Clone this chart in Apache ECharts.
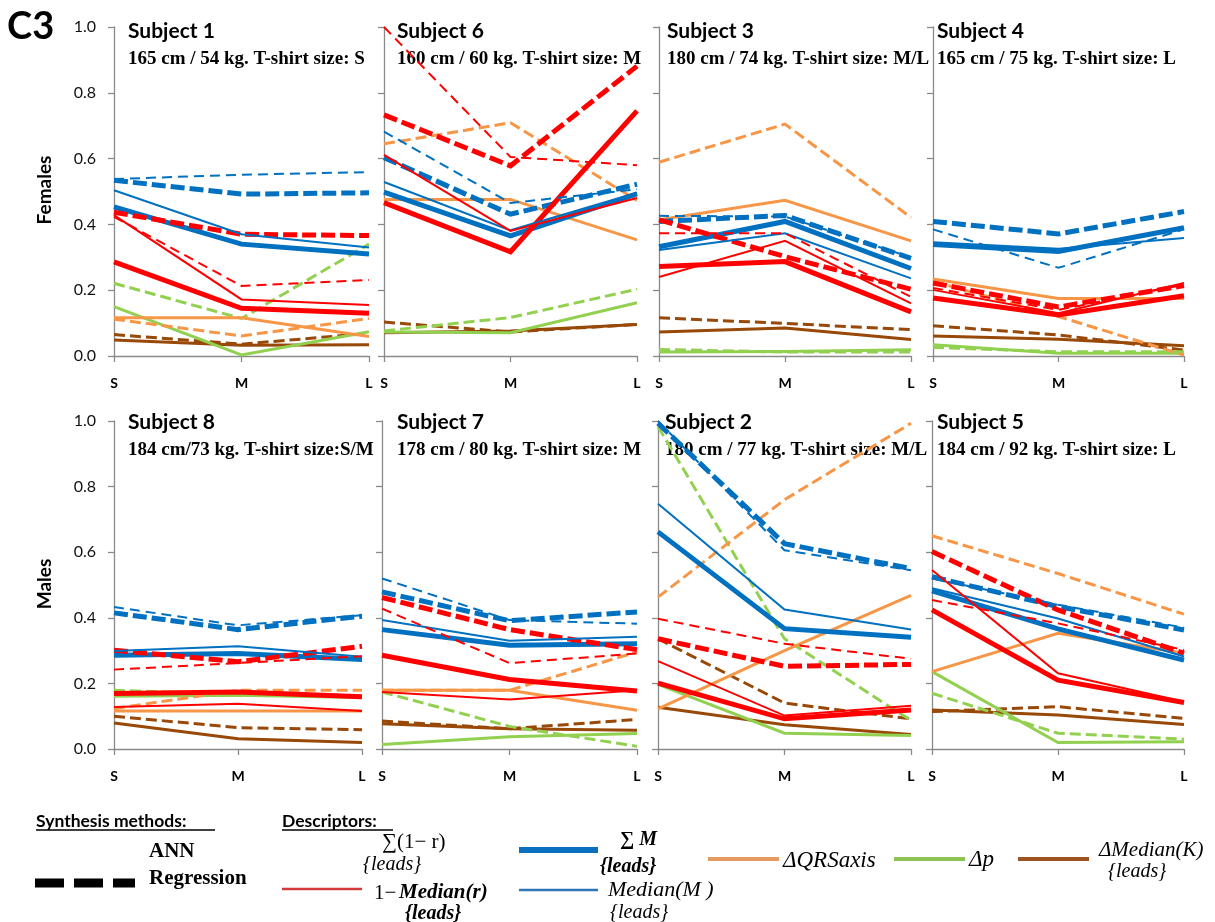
<!DOCTYPE html>
<html>
<head>
<meta charset="utf-8">
<script src="https://cdn.jsdelivr.net/npm/echarts@6/dist/echarts.min.js"></script>
<style>
  html, body { margin: 0; padding: 0; background: #fff; }
  #chart { width: 1215px; height: 922px; }
</style>
</head>
<body>
<div id="chart"></div>
<script>
// Panel order: top row (females) then bottom row (males)
const subjects = ['Subject 1', 'Subject 6', 'Subject 3', 'Subject 4',
                  'Subject 8', 'Subject 7', 'Subject 2', 'Subject 5'];
const subtitles = [
  '165 cm / 54 kg. T-shirt size: S',
  '160 cm / 60 kg. T-shirt size: M',
  '180 cm / 74 kg. T-shirt size: M/L',
  '165 cm / 75 kg. T-shirt size: L',
  '184 cm/73 kg. T-shirt size:S/M',
  '178 cm / 80 kg. T-shirt size: M',
  '180 cm / 77 kg. T-shirt size: M/L',
  '184 cm / 92 kg. T-shirt size: L'
];
const sizes = ['S', 'M', 'L'];
const yTicks = [0, 0.2, 0.4, 0.6, 0.8, 1.0];

// Descriptor values per panel, each triple is [S, M, L]
// Σ(1−r){leads}
const sum1rANN = [[0.286,0.145,0.130],[0.466,0.317,0.745],[0.272,0.287,0.134],[0.176,0.125,0.183],
                  [0.169,0.174,0.159],[0.286,0.212,0.177],[0.201,0.092,0.119],[0.424,0.210,0.142]];
const sum1rReg = [[0.437,0.370,0.366],[0.733,0.578,0.881],[0.414,0.302,0.203],[0.222,0.149,0.214],
                  [0.301,0.266,0.313],[0.462,0.364,0.303],[0.336,0.252,0.258],[0.602,0.424,0.292]];
// 1−Median(r){leads}
const med1rANN = [[0.428,0.172,0.155],[0.611,0.380,0.480],[0.240,0.350,0.160],[0.201,0.130,0.222],
                  [0.128,0.138,0.116],[0.174,0.151,0.179],[0.268,0.102,0.132],[0.546,0.231,0.144]];
const med1rReg = [[0.423,0.213,0.231],[1.000,0.605,0.580],[0.373,0.373,0.180],[0.207,0.140,0.217],
                  [0.242,0.262,0.283],[0.428,0.262,0.291],[0.397,0.321,0.275],[0.454,0.383,0.302]];
// ΣM{leads}
const sumMANN = [[0.453,0.340,0.310],[0.498,0.365,0.493],[0.332,0.409,0.266],[0.339,0.318,0.390],
                 [0.286,0.291,0.273],[0.364,0.316,0.321],[0.662,0.367,0.341],[0.482,0.366,0.271]];
const sumMReg = [[0.534,0.492,0.496],[0.603,0.431,0.522],[0.409,0.427,0.297],[0.409,0.371,0.439],
                 [0.415,0.364,0.405],[0.479,0.391,0.418],[0.993,0.626,0.550],[0.525,0.434,0.363]];
// Median(M){leads}
const medMANN = [[0.504,0.370,0.330],[0.529,0.382,0.496],[0.322,0.373,0.236],[0.346,0.326,0.359],
                 [0.299,0.313,0.281],[0.393,0.330,0.342],[0.748,0.425,0.364],[0.490,0.398,0.282]];
const medMReg = [[0.538,0.551,0.559],[0.682,0.465,0.507],[0.426,0.424,0.300],[0.385,0.268,0.385],
                 [0.433,0.377,0.408],[0.520,0.393,0.382],[1.000,0.606,0.545],[0.520,0.440,0.370]];
// ΔQRSaxis
const qrsANN = [[0.116,0.116,0.059],[0.476,0.476,0.353],[0.414,0.473,0.350],[0.234,0.175,0.175],
                [0.116,0.116,0.116],[0.179,0.179,0.118],[0.122,0.300,0.468],[0.236,0.353,0.292]];
const qrsReg = [[0.112,0.061,0.114],[0.645,0.709,0.473],[0.589,0.705,0.421],[0.227,0.120,0.003],
                [0.123,0.179,0.179],[0.179,0.179,0.296],[0.463,0.760,0.993],[0.650,0.535,0.411]];
// Δp
const dpANN = [[0.150,0.003,0.074],[0.073,0.071,0.162],[0.012,0.014,0.019],[0.034,0.008,0.008],
               [0.161,0.164,0.157],[0.014,0.037,0.047],[0.197,0.048,0.041],[0.236,0.020,0.022]];
const dpReg = [[0.221,0.114,0.340],[0.076,0.117,0.203],[0.020,0.012,0.012],[0.026,0.013,0.013],
               [0.179,0.167,0.161],[0.174,0.069,0.008],[0.983,0.336,0.087],[0.170,0.048,0.030]];
// ΔMedian(K){leads}
const medKANN = [[0.049,0.033,0.034],[0.071,0.076,0.096],[0.073,0.085,0.050],[0.061,0.051,0.031],
                 [0.079,0.031,0.020],[0.077,0.062,0.057],[0.127,0.074,0.044],[0.119,0.104,0.075]];
const medKReg = [[0.065,0.036,0.069],[0.103,0.073,0.096],[0.116,0.099,0.080],[0.092,0.064,0.018],
                 [0.100,0.065,0.059],[0.085,0.062,0.090],[0.336,0.140,0.092],[0.114,0.129,0.093]];

// Plot areas (pixels) of the eight panels
const panelBoxes = [
  [114, 27, 255, 329], [384, 27, 253, 329], [659, 27, 252, 329], [933, 27, 251, 329],
  [114, 421, 248, 328], [382, 421, 255, 328], [658, 421, 253, 328], [932, 421, 252, 328]
];

const RED = '#FF0000', BLUE = '#0070C0', ORANGE = '#F79646', GREEN = '#92D050', BROWN = '#984807';

// Drawing order: bottom first
const seriesDefs = [
  { data: medKReg,  color: BROWN,  width: 3, dash: [11, 5] },
  { data: medKANN,  color: BROWN,  width: 3, dash: null },
  { data: dpReg,    color: GREEN,  width: 3, dash: [11, 5] },
  { data: dpANN,    color: GREEN,  width: 3, dash: null },
  { data: qrsReg,   color: ORANGE, width: 3, dash: [11, 5] },
  { data: qrsANN,   color: ORANGE, width: 3, dash: null },
  { data: sumMReg,  color: BLUE,   width: 5, dash: [14, 5] },
  { data: sumMANN,  color: BLUE,   width: 5, dash: null },
  { data: sum1rReg, color: RED,    width: 5, dash: [14, 5] },
  { data: sum1rANN, color: RED,    width: 5, dash: null },
  { data: medMReg,  color: BLUE,   width: 2, dash: [10, 6] },
  { data: medMANN,  color: BLUE,   width: 2, dash: null },
  { data: med1rReg, color: RED,    width: 2, dash: [10, 6] },
  { data: med1rANN, color: RED,    width: 2, dash: null }
];

const AXIS_COLOR = '#8a8a8a';
const grid = [], xAxis = [], yAxis = [], series = [];

panelBoxes.forEach((b, i) => {
  grid.push({ left: b[0], top: b[1], width: b[2], height: b[3] });
  xAxis.push({
    gridIndex: i, type: 'category', data: sizes, boundaryGap: false,
    axisLine: { lineStyle: { color: AXIS_COLOR, width: 1.3 } },
    axisTick: { show: true, length: 6, lineStyle: { color: AXIS_COLOR, width: 1.3 } },
    axisLabel: { margin: 20, color: '#000', fontFamily: 'Lato', fontWeight: 'bold', fontSize: 14 },
    splitLine: { show: false }
  });
  yAxis.push({
    gridIndex: i, type: 'value', min: yTicks[0], max: yTicks[yTicks.length - 1], interval: 0.2,
    axisLine: { show: true, lineStyle: { color: AXIS_COLOR, width: 1.3 } },
    axisTick: { show: true, length: 6, lineStyle: { color: AXIS_COLOR, width: 1.3 } },
    axisLabel: {
      show: i % 4 === 0, margin: 18, color: '#111', fontFamily: 'Lato', fontSize: 16,
      formatter: v => v.toFixed(1)
    },
    splitLine: { show: false }
  });
  seriesDefs.forEach(d => {
    series.push({
      type: 'line', xAxisIndex: i, yAxisIndex: i, data: d.data[i],
      symbol: 'none', silent: true, clip: false,
      lineStyle: { color: d.color, width: d.width, type: d.dash || 'solid', cap: 'butt', join: 'miter' }
    });
  });
});

// Text and legend elements
const graphic = [];
function txt(x, y, text, font, opts) {
  graphic.push(Object.assign({
    type: 'text', x: x, y: y,
    style: { text: text, font: font, fill: '#000', textAlign: 'left', textVerticalAlign: 'middle' }
  }, opts || {}));
}
function seg(x1, y1, x2, y2, color, width, dash) {
  graphic.push({
    type: 'line', shape: { x1: x1, y1: y1, x2: x2, y2: y2 },
    style: { stroke: color, lineWidth: width, lineDash: dash || null }
  });
}

txt(7, 27, 'C3', 'bold 38px Lato');
graphic.push({ type: 'text', x: 45, y: 190, rotation: Math.PI / 2,
  style: { text: 'Females', font: 'bold 19px Lato', fill: '#000', textAlign: 'center', textVerticalAlign: 'middle' } });
graphic.push({ type: 'text', x: 45, y: 584, rotation: Math.PI / 2,
  style: { text: 'Males', font: 'bold 19px Lato', fill: '#000', textAlign: 'center', textVerticalAlign: 'middle' } });

const titleX = [128, 397, 667, 937, 128, 397, 665, 937];
subjects.forEach((s, i) => {
  const row = i < 4 ? 0 : 1;
  const ty = row === 0 ? 31 : 422;
  txt(titleX[i], ty, s, 'bold 21px Lato');
  txt(titleX[i], ty + 28, subtitles[i], 'bold 19px "Liberation Serif"');
});

// Legend: synthesis methods
txt(36, 821, 'Synthesis methods:', 'bold 17.5px Lato');
seg(36, 830, 215, 830, '#000', 1.3);
txt(149, 852, 'ANN', 'bold 21px "Liberation Serif"');
seg(35, 883, 135, 883, '#000', 9, [29, 10]);
txt(149, 879, 'Regression', 'bold 21px "Liberation Serif"');

// Legend: descriptors
txt(282, 821, 'Descriptors:', 'bold 17.5px Lato');
seg(282, 830, 393, 830, '#000', 1.3);
txt(382, 842, '\u2211(1\u2212 r)', '21px "Liberation Serif"');
txt(363, 865, '{leads}', 'italic 20px "Liberation Serif"');
seg(282, 889, 362, 889, '#D23B3B', 2.5);
txt(374, 893, '1\u2212', '21px "Liberation Serif"');
txt(399, 893, 'Median(r)', 'bold italic 21px "Liberation Serif"');
txt(405, 914, '{leads}', 'bold italic 20px "Liberation Serif"');

seg(519, 850, 598, 850, '#0B6FC0', 6);
txt(620, 840, '\u2211 M', 'bold italic 20px "Liberation Serif"');
txt(600, 867, '{leads}', 'bold italic 20px "Liberation Serif"');
seg(519, 890, 598, 890, '#2E75B6', 2.5);
txt(608, 890, 'Median(M )', 'italic 22px "Liberation Serif"');
txt(610, 913, '{leads}', 'italic 20px "Liberation Serif"');

seg(708, 859, 779, 859, '#E59A62', 4);
txt(783, 861, '\u0394QRSaxis', 'italic 23px "Liberation Serif"');
seg(894, 859, 965, 859, '#8DC553', 4);
txt(969, 860, '\u0394p', 'italic 23px "Liberation Serif"');
seg(1018, 859, 1089, 859, '#9B5420', 4);
txt(1099, 850, '\u0394Median(K)', 'italic 21px "Liberation Serif"');
txt(1108, 872, '{leads}', 'italic 20px "Liberation Serif"');

const chart = echarts.init(document.getElementById('chart'), null, { renderer: 'canvas' });
chart.setOption({
  animation: false,
  backgroundColor: '#fff',
  grid: grid, xAxis: xAxis, yAxis: yAxis, series: series,
  graphic: graphic
});
</script>
</body>
</html>
